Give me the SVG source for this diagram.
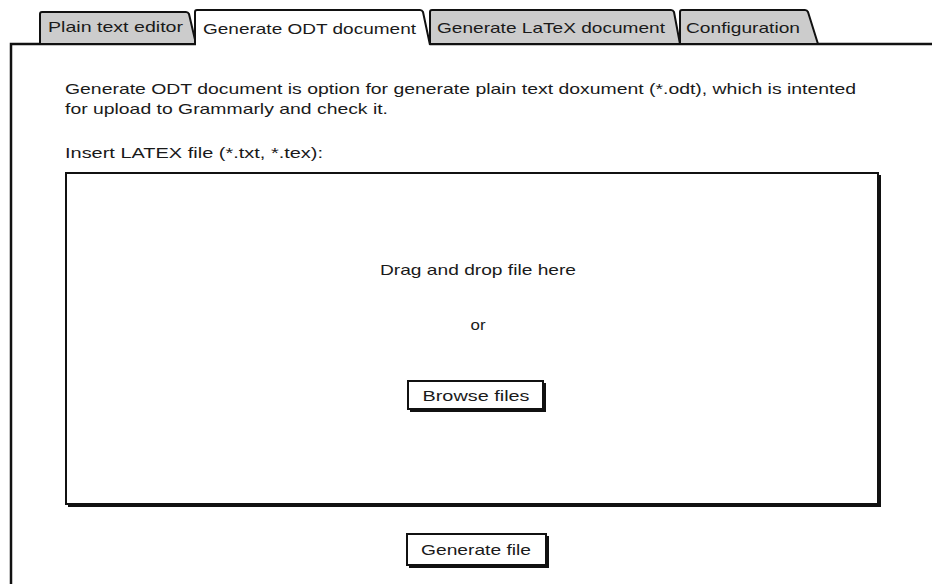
<svg xmlns="http://www.w3.org/2000/svg" width="932" height="584" viewBox="0 0 932 584">
  <style>
    .t { font-family: "Liberation Sans", "Open Sans", sans-serif; font-size: 15px; fill: #1a1a1a; }
    .tab { stroke: #111; stroke-width: 2; stroke-linejoin: round; }
    .off { fill: #cccccc; }
    .on { fill: #ffffff; }
    .frame { fill: none; stroke: #111; stroke-width: 2.5; }
    .box { fill: #ffffff; stroke: #111; stroke-width: 2; }
    .shadow { fill: none; stroke: #111; stroke-width: 3; }
  </style>
  <rect width="932" height="584" fill="#ffffff"/>

  <!-- panel outline -->
  <g id="panel">
    <path class="frame" d="M11,584 V44 H196 M430,44 H932"/>
  </g>

  <!-- tab strip -->
  <g id="tab-plain">
    <path class="tab off" d="M40,44 V14 Q40,12 42,12 H186 Q188,12 189,14 L196,44 Z"/>
    <text class="t" x="48" y="32" textLength="135" lengthAdjust="spacingAndGlyphs">Plain text editor</text>
  </g>
  <g id="tab-latex">
    <path class="tab off" d="M430,44 V12 Q430,10 432,10 H671 Q673,10 674,12 L680,44 Z"/>
    <text class="t" x="437" y="33" textLength="228" lengthAdjust="spacingAndGlyphs">Generate LaTeX document</text>
  </g>
  <g id="tab-config">
    <path class="tab off" d="M680,44 V12 Q680,10 682,10 H805 Q807,10 808,12 L818,44 Z"/>
    <text class="t" x="686" y="33" textLength="114" lengthAdjust="spacingAndGlyphs">Configuration</text>
  </g>
  <g id="tab-odt">
    <path class="tab on" d="M195,45 V12 Q195,10 197,10 H420 Q422,10 423,12 L430,45"/>
    <text class="t" x="203" y="34" textLength="213" lengthAdjust="spacingAndGlyphs">Generate ODT document</text>
  </g>

  <!-- description -->
  <g id="description">
    <text class="t" x="65" y="94" textLength="791" lengthAdjust="spacingAndGlyphs">Generate ODT document is option for generate plain text doxument (*.odt), which is intented</text>
    <text class="t" x="65" y="114" textLength="323" lengthAdjust="spacingAndGlyphs">for upload to Grammarly and check it.</text>
    <text class="t" x="65" y="158" textLength="258" lengthAdjust="spacingAndGlyphs">Insert LATEX file (*.txt, *.tex):</text>
  </g>

  <!-- drop zone -->
  <g id="dropzone">
    <rect class="box" x="66" y="173" width="812" height="331"/>
    <path class="shadow" d="M68,505.5 H879.5 V175"/>
    <text class="t" x="478" y="275" text-anchor="middle" textLength="196" lengthAdjust="spacingAndGlyphs">Drag and drop file here</text>
    <text class="t" x="478" y="330" text-anchor="middle" textLength="15" lengthAdjust="spacingAndGlyphs">or</text>
  </g>

  <g id="browse-button">
    <rect class="box" x="408" y="381" width="135" height="28"/>
    <path class="shadow" d="M410,410.5 H544.5 V383"/>
    <text class="t" x="476" y="401" text-anchor="middle" textLength="107" lengthAdjust="spacingAndGlyphs">Browse files</text>
  </g>

  <g id="generate-button">
    <rect class="box" x="407" y="534" width="139" height="31"/>
    <path class="shadow" d="M409,566.5 H547.5 V536"/>
    <text class="t" x="476" y="555" text-anchor="middle" textLength="110" lengthAdjust="spacingAndGlyphs">Generate file</text>
  </g>
</svg>
